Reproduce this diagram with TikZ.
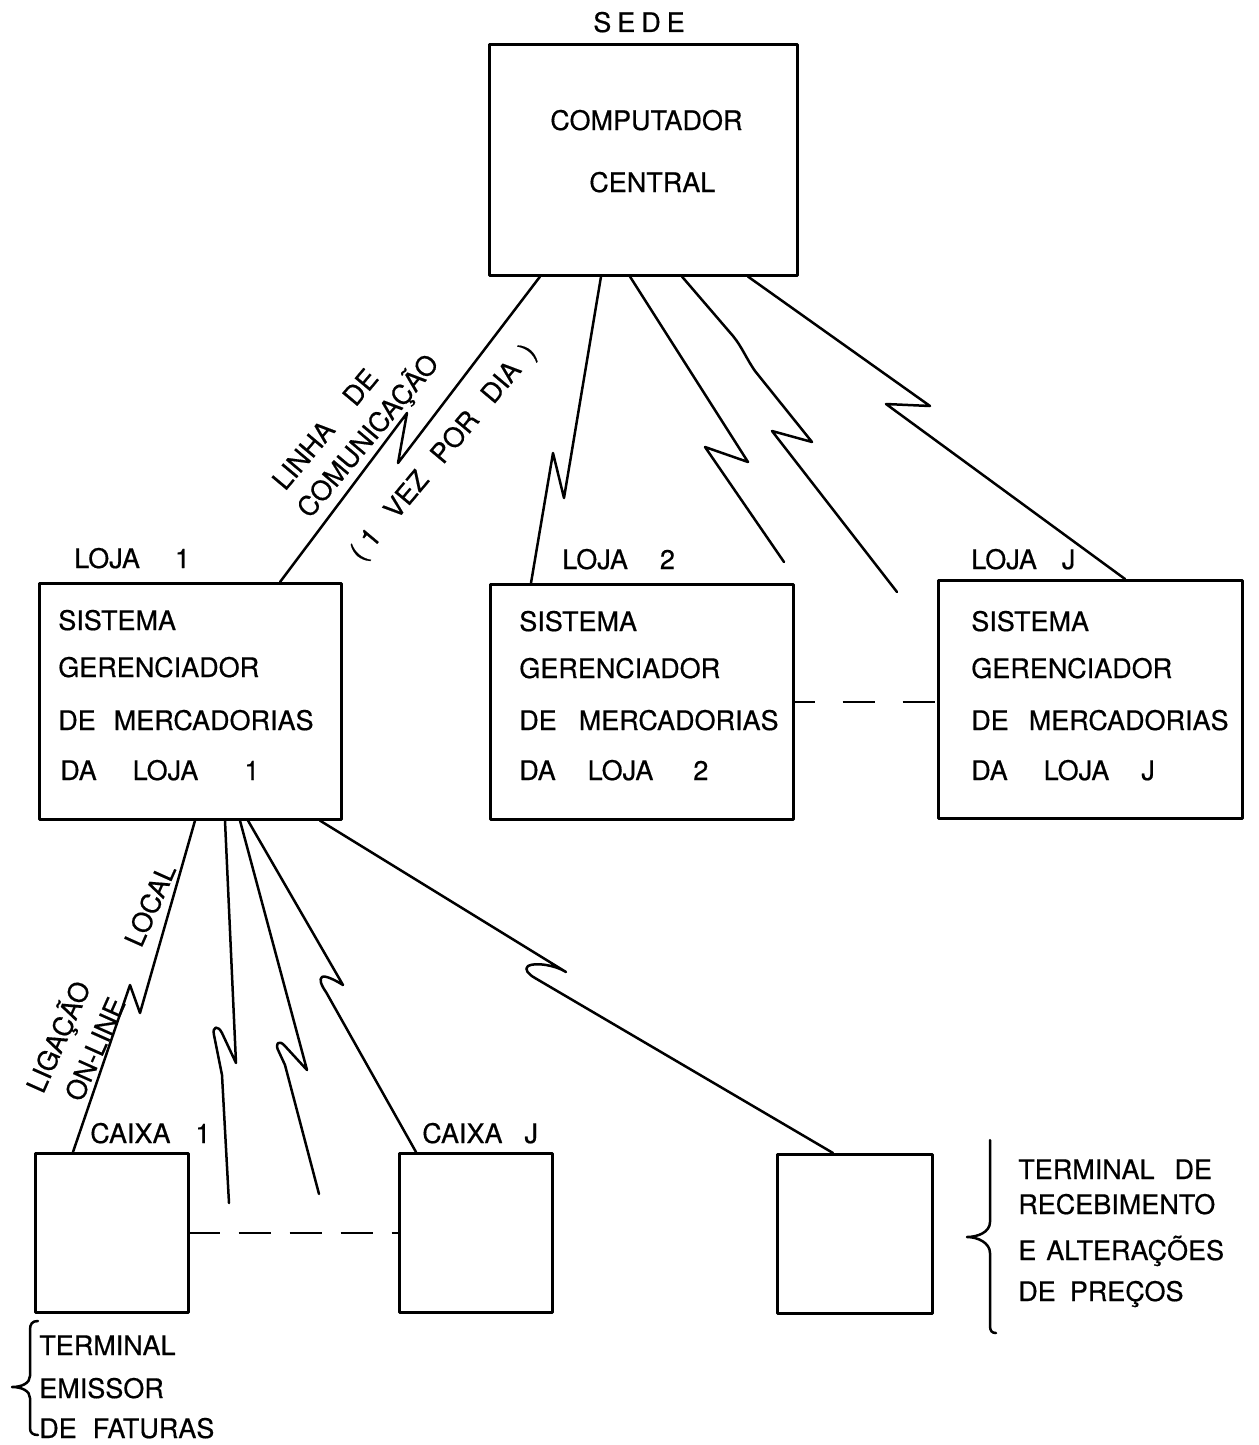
\documentclass[tikz,border=0pt]{standalone}
\usepackage{fontspec}
\setmainfont{TeX Gyre Heros}[FakeBold=0.5]
\begin{document}
\begin{tikzpicture}[x=1pt,y=-1pt,line width=2.6pt,line join=round,line cap=round,
  box/.style={draw,inner sep=0pt,anchor=north west},
  txt/.style={anchor=base west,inner sep=0pt,font=\fontsize{27}{32}\selectfont},
  rtxt/.style={anchor=center,inner sep=0pt,font=\fontsize{27}{32}\selectfont},
  link/.style={line width=2.5pt},
  dashlink/.style={line width=2.6pt,line cap=butt}]
\useasboundingbox (0,0) rectangle (1258,1445);

% --- boxes ---
\node[box,minimum width=308pt,minimum height=231pt] (sede) at (488,43) {};
\node[box,minimum width=302pt,minimum height=236pt] (loja1) at (38,582) {};
\node[box,minimum width=303pt,minimum height=235pt] (loja2) at (489,583) {};
\node[box,minimum width=304pt,minimum height=238pt] (lojaj) at (937,579) {};
\node[box,minimum width=153pt,minimum height=159pt] (caixa1) at (34,1152) {};
\node[box,minimum width=153pt,minimum height=159pt] (caixaj) at (398,1152) {};
\node[box,minimum width=155pt,minimum height=159pt] (term) at (776,1153) {};

% --- head office ---
\node[txt] (sedelbl) at (592,32) {S\hspace{6pt}E\hspace{6pt}D\hspace{6pt}E};
\node[txt] (comp) at (549,130) {COMPUTADOR};
\node[txt] (cent) at (588,192) {CENTRAL};

% --- store labels and texts ---
\node[txt] (l1lbl) at (73,568) {LOJA\hspace{35pt}1};
\node[txt] (l2lbl) at (561,569) {LOJA\hspace{32pt}2};
\node[txt] (ljlbl) at (970,569) {LOJA\hspace{25pt}J};

\node[txt] (l1a) at (57,630) {SISTEMA};
\node[txt] (l1b) at (57,677) {GERENCIADOR};
\node[txt] (l1c) at (57,730) {DE\hspace{18pt}MERCADORIAS};
\node[txt] (l1d) at (59,780) {DA\hspace{36pt}LOJA\hspace{46pt}1};

\node[txt] (l2a) at (518,631) {SISTEMA};
\node[txt] (l2b) at (518,678) {GERENCIADOR};
\node[txt] (l2c) at (518,730) {DE\hspace{22pt}MERCADORIAS};
\node[txt] (l2d) at (518,780) {DA\hspace{32pt}LOJA\hspace{40pt}2};

\node[txt] (lja) at (970,631) {SISTEMA};
\node[txt] (ljb) at (970,678) {GERENCIADOR};
\node[txt] (ljc) at (970,730) {DE\hspace{20pt}MERCADORIAS};
\node[txt] (ljd) at (970,780) {DA\hspace{36pt}LOJA\hspace{32pt}J};

% --- checkout labels ---
\node[txt] (c1lbl) at (89,1143) {CAIXA\hspace{25pt}1};
\node[txt] (cjlbl) at (421,1143) {CAIXA\hspace{22pt}J};

% --- communication lines from the central computer ---
\draw[link] ([xshift=52pt]sede.south west) -- (398,463) -- (407,413) -- ([xshift=242pt]loja1.north west);
\draw[link] ([xshift=113pt]sede.south west) -- (564,498) -- (553,453) -- ([xshift=42pt]loja2.north west);
\coordinate (free1) at (784,562);
\draw[link] ([xshift=142pt]sede.south west) -- (748,462) -- (705,447) -- (free1);
\coordinate (free2) at (897,592);
\draw[link] ([xshift=194pt]sede.south west) -- (733,336) .. controls (742,347) and (746,358) .. (755,371)
  -- (812,442) -- (772,431) -- (free2);
\draw[link] ([xshift=260pt]sede.south west) -- (930,406) -- (886,404) -- ([xshift=188pt]lojaj.north west);

\node[rtxt,rotate=50] (lab1) at (325,429) {LINHA\hspace{30pt}DE};
\node[rtxt,rotate=50] (lab2) at (368,436) {COMUNICAÇÃO};
\node[rtxt,rotate=50] (lab3) at (444,453) {(\hspace{8pt}1\hspace{22pt}VEZ\hspace{20pt}POR\hspace{20pt}DIA\hspace{14pt})};

% --- store dashed continuation ---
\draw[dashlink,dash pattern=on 32pt off 28pt,dash phase=12pt] (loja2.east) -- (loja2.east -| lojaj.west);

% --- local lines from store 1 ---
\draw[link] ([xshift=157pt]loja1.south west) -- (140,1013) -- (130,985) -- ([xshift=39pt]caixa1.north west);
\coordinate (free3) at (229,1203);
\draw[link] ([xshift=187pt]loja1.south west) -- (236,1063) -- (222,1033)
  .. controls (218,1025) and (212,1026) .. (214,1035) -- (222,1075) -- (free3);
\coordinate (free4) at (319,1194);
\draw[link] ([xshift=202pt]loja1.south west) -- (307,1070) -- (284,1045)
  .. controls (279,1040) and (274,1043) .. (279,1052) -- (285,1065) -- (free4);
\draw[link] ([xshift=210pt]loja1.south west) -- (343,985)
  .. controls (335,980) and (325,975) .. (322,977) .. controls (319,979) and (321,985) .. (326,992)
  -- ([xshift=18pt]caixaj.north west);
\draw[link] ([xshift=282pt]loja1.south west) -- (566,972)
  .. controls (555,965) and (535,962) .. (528,966) .. controls (524,969) and (528,974) .. (535,978)
  -- ([xshift=57pt]term.north west);

\node[rtxt,rotate=66] (lab4) at (150,905) {LOCAL};
\node[rtxt,rotate=66] (lab5) at (59,1037) {LIGAÇÃO};
\node[rtxt,rotate=66] (lab6) at (95,1049) {ON-LINE};

% --- checkout dashed continuation ---
\draw[dashlink,dash pattern=on 32pt off 19pt,dash phase=2pt] (caixa1.east) -- (caixa1.east -| caixaj.west);

% --- braces and notes ---
\draw[link] (990,1140) -- (990,1222) .. controls (990,1232) and (978,1237) .. (967,1237)
  .. controls (978,1237) and (990,1243) .. (990,1253) -- (990,1326)
  .. controls (990,1331) and (992,1333) .. (996,1333);
\node[txt] (r1) at (1017,1179) {TERMINAL\hspace{20pt}DE};
\node[txt] (r2) at (1017,1214) {RECEBIMENTO};
\node[txt] (r3) at (1017,1260) {E\hspace{10pt}ALTERAÇÕES};
\node[txt] (r4) at (1017,1301) {DE\hspace{14pt}PREÇOS};

\draw[link] (38,1321) .. controls (32,1321) and (30,1324) .. (30,1330) -- (30,1376)
  .. controls (30,1383) and (22,1387) .. (12,1387)
  .. controls (22,1387) and (30,1391) .. (30,1398) -- (30,1428)
  .. controls (30,1433) and (33,1435) .. (38,1435);
\node[txt] (f1) at (38,1355) {TERMINAL};
\node[txt] (f2) at (38,1398) {EMISSOR};
\node[txt] (f3) at (38,1438) {DE\hspace{16pt}FATURAS};
\end{tikzpicture}
\end{document}
